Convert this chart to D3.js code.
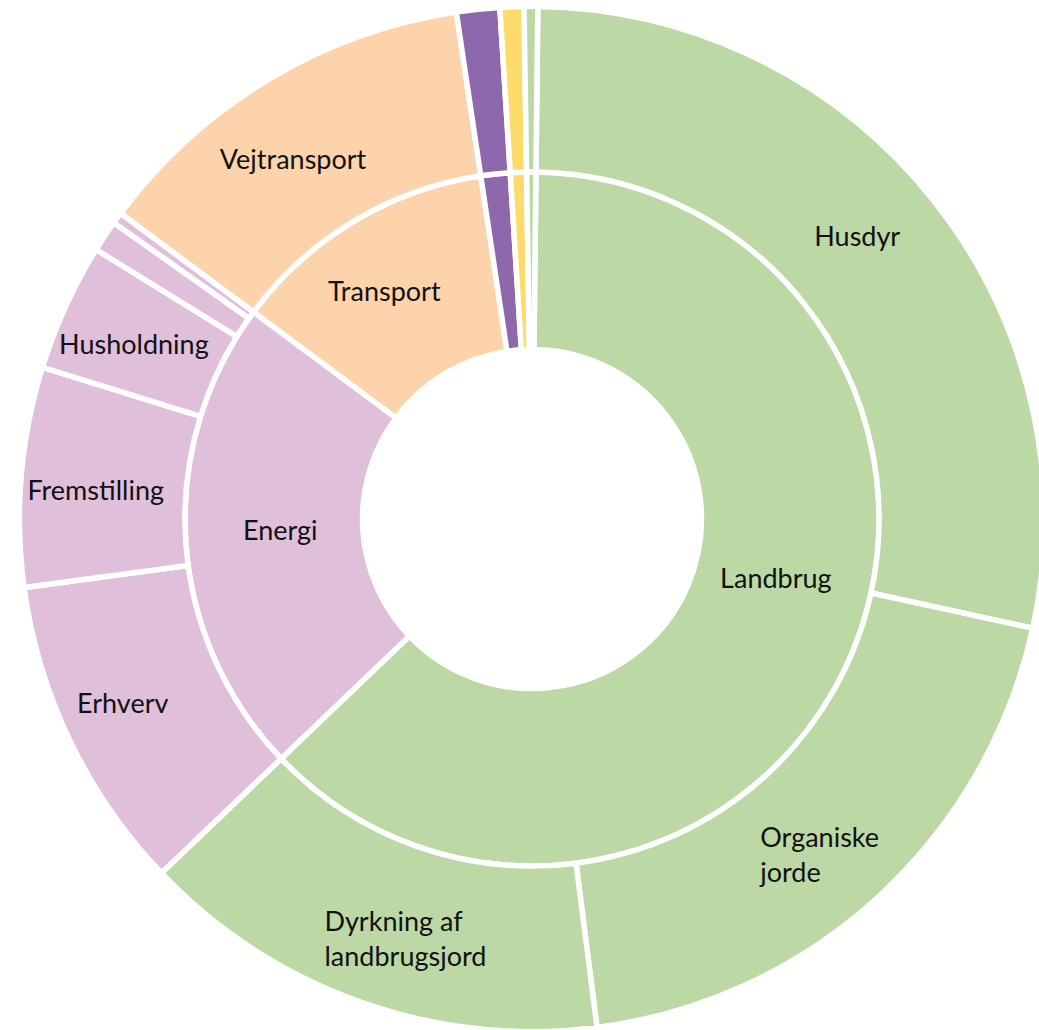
<!DOCTYPE html>
<html>
<head>
<meta charset="utf-8">
<script src="https://cdn.jsdelivr.net/npm/d3@7"></script>
<style>
  body { margin: 0; background: #fff; }
  text { font-family: Lato, "Open Sans", sans-serif; font-size: 27px; fill: #111; }
</style>
</head>
<body>
<div id="viz"></div>
<script>
// inner ring: sectors (share of total, %)
const sectors = ['Landbrug', 'Energi', 'Transport', 'Industri', 'Affald', 'Øvrigt'];
const sectorValues = [62.69, 22.31, 12.47, 1.36, 0.75, 0.43];
const sectorLabels = ['Landbrug', 'Energi', 'Transport', '', '', ''];

// outer ring: sub-sources, in the same order as the sectors
const sources = ['Husdyr', 'Organiske jorde', 'Dyrkning af landbrugsjord',
    'Erhverv', 'Fremstilling', 'Husholdning', 'Øvrig energi 1', 'Øvrig energi 2',
    'Vejtransport', 'Industri', 'Affald', 'Øvrigt'];
const sourceParent = ['Landbrug', 'Landbrug', 'Landbrug',
    'Energi', 'Energi', 'Energi', 'Energi', 'Energi',
    'Transport', 'Industri', 'Affald', 'Øvrigt'];
const sourceValues = [28.24, 19.56, 14.89, 10.0, 6.92, 4.03, 1.0, 0.36, 12.47, 1.36, 0.75, 0.43];
const sourceLabels = [['Husdyr'], ['Organiske', 'jorde'], ['Dyrkning af', 'landbrugsjord'],
    ['Erhverv'], ['Fremstilling'], ['Husholdning'], [], [],
    ['Vejtransport'], [], [], []];

const colors = {
    'Landbrug': '#bbd8a5', 'Energi': '#dfbfda', 'Transport': '#fcd3ab',
    'Industri': '#8d68ac', 'Affald': '#fddb6a', 'Øvrigt': '#bbd8a5'
};

// small nudges from the arc centroid for each label
const sectorNudge = [[7, -44], [6, -5], [-15, -6], [0, 0], [0, 0], [0, 0]];
const sourceNudge = [[-11, -15], [-62, 19], [-64, 15], [-22, -2], [-8, 7], [-7, 3],
    [0, 0], [0, 0], [-18, 9], [0, 0], [0, 0], [0, 0]];

const width = 1039, height = 1030;
const cx = 532, cy = 519;
const r0 = 169.5, r1 = 347, r2 = 512.5;
const start = 0.65 * Math.PI / 180;

const svg = d3.select('#viz')
    .append('svg')
    .attr('width', width)
    .attr('height', height);

const g = svg.append('g')
    .attr('transform', `translate(${cx},${cy})`);

const pie = d3.pie()
    .sort(null)
    .value(d => d)
    .startAngle(start)
    .endAngle(start + 2 * Math.PI);

const innerArc = d3.arc().innerRadius(r0).outerRadius(r1);
const outerArc = d3.arc().innerRadius(r1).outerRadius(r2);

const innerData = pie(sectorValues);
const outerData = pie(sourceValues);

g.selectAll('path.inner')
    .data(innerData)
    .enter()
    .append('path')
    .attr('class', 'inner')
    .attr('d', innerArc)
    .attr('fill', (d, i) => colors[sectors[i]])
    .attr('stroke', '#fff')
    .attr('stroke-width', 5.5)
    .attr('stroke-linejoin', 'miter');

g.selectAll('path.outer')
    .data(outerData)
    .enter()
    .append('path')
    .attr('class', 'outer')
    .attr('d', outerArc)
    .attr('fill', (d, i) => colors[sourceParent[i]])
    .attr('stroke', '#fff')
    .attr('stroke-width', 5.5)
    .attr('stroke-linejoin', 'miter');

// inner labels
innerData.forEach((d, i) => {
    if (!sectorLabels[i]) return;
    const c = innerArc.centroid(d);
    g.append('text')
        .attr('x', c[0] + sectorNudge[i][0])
        .attr('y', c[1] + sectorNudge[i][1])
        .attr('dy', '0.36em')
        .attr('text-anchor', 'middle')
        .text(sectorLabels[i]);
});

// outer labels (two-line ones are left aligned)
outerData.forEach((d, i) => {
    const lines = sourceLabels[i];
    if (!lines.length) return;
    const c = outerArc.centroid(d);
    const x = c[0] + sourceNudge[i][0];
    const y = c[1] + sourceNudge[i][1];
    const lh = 35;
    const t = g.append('text')
        .attr('text-anchor', lines.length > 1 ? 'start' : 'middle');
    lines.forEach((line, j) => {
        t.append('tspan')
            .attr('x', x)
            .attr('y', y + (j - (lines.length - 1) / 2) * lh)
            .attr('dy', '0.36em')
            .text(line);
    });
});
</script>
</body>
</html>
